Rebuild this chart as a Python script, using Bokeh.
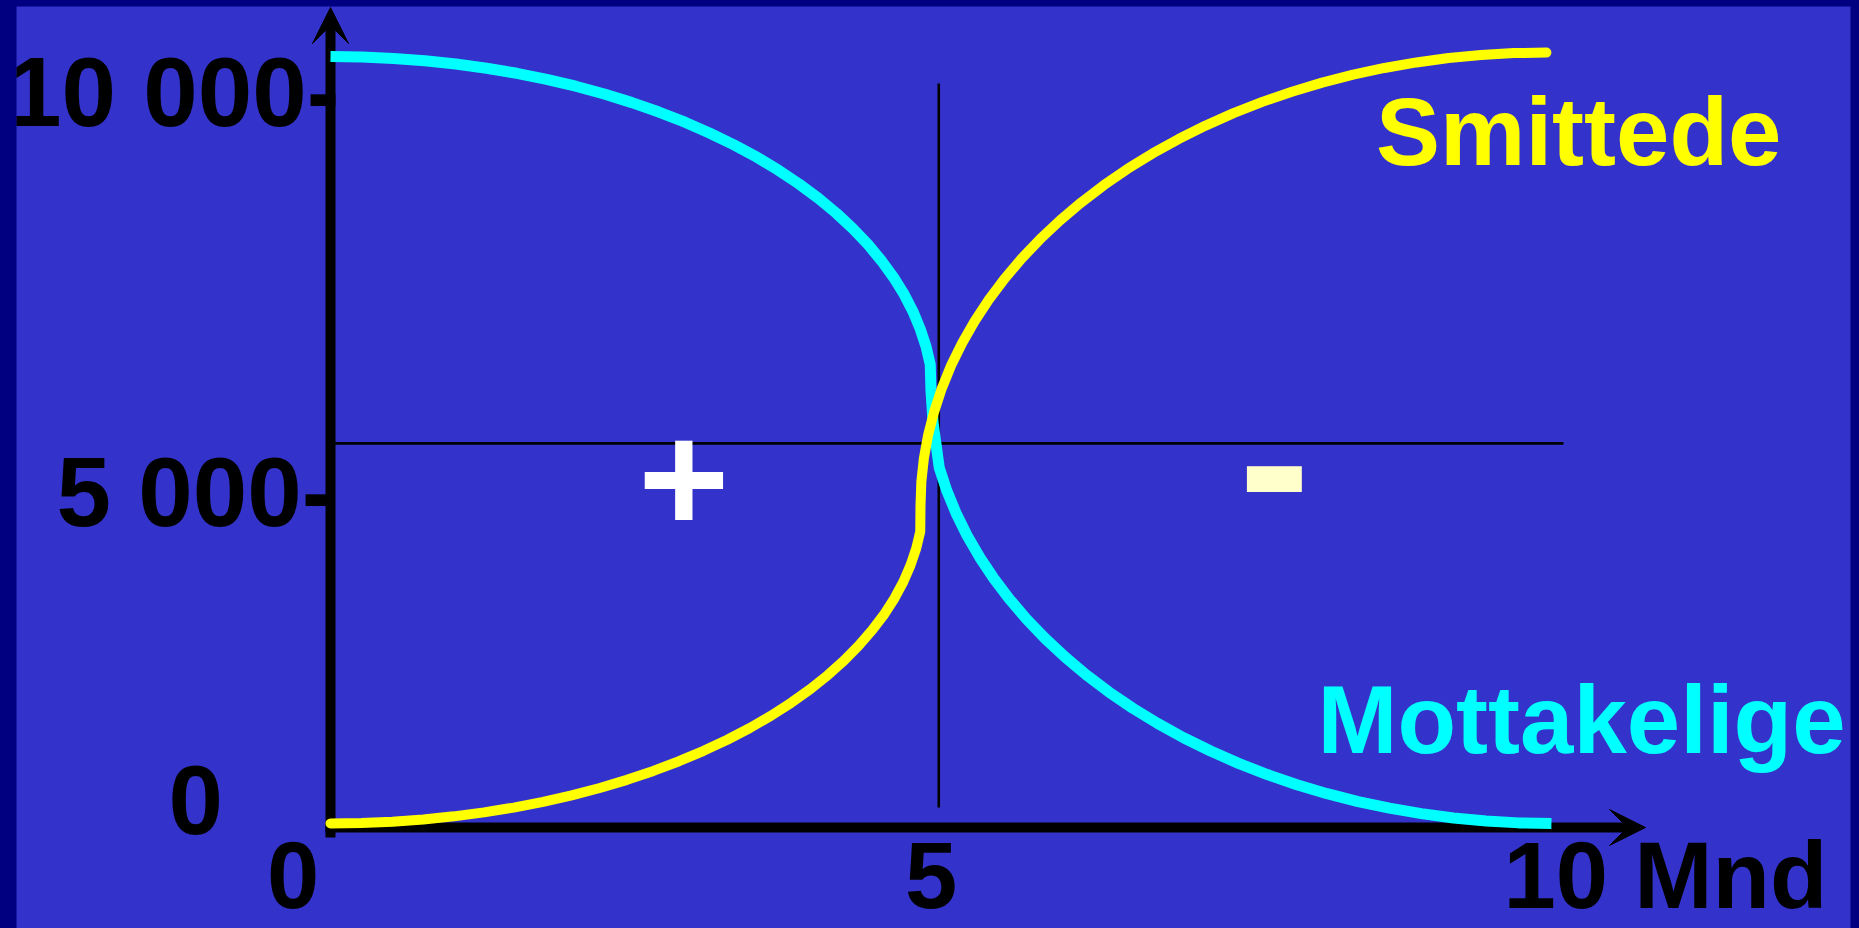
from bokeh.plotting import figure
from bokeh.models import Range1d, Arrow, VeeHead
from bokeh.core.properties import value
from bokeh.embed import file_html
from bokeh.resources import INLINE

# ---------------- data ----------------
# Mottakelige (susceptible): months / count
mott_months = [0.000, 0.259, 0.517, 0.774, 1.028, 1.280, 1.529, 1.773, 2.012, 2.246,
               2.473, 2.694, 2.908, 3.113, 3.310, 3.498, 3.676, 3.844, 4.002, 4.149,
               4.284, 4.408, 4.519, 4.618, 4.705, 4.778, 4.838, 4.886, 4.920, 4.926,
               4.943, 4.994, 5.056, 5.132, 5.222, 5.325, 5.441, 5.569, 5.709, 5.862,
               6.026, 6.200, 6.385, 6.580, 6.785, 6.998, 7.220, 7.449, 7.685, 7.928,
               8.176, 8.430, 8.687, 8.949, 9.213, 9.480, 9.748, 10.016]
mott_values = [9974, 9968, 9949, 9919, 9876, 9822, 9756, 9677, 9588, 9487,
               9375, 9253, 9121, 8978, 8826, 8666, 8496, 8318, 8133, 7940,
               7740, 7535, 7323, 7108, 6887, 6663, 6435, 6205, 5973, 5636,
               5221, 4632, 4335, 4042, 3754, 3473, 3197, 2929, 2669, 2417,
               2175, 1943, 1721, 1511, 1313, 1127, 954, 794, 649, 517,
               400, 298, 212, 141, 85, 45, 21, 13]
# Smittede (infected): months / count
smit_months = [0.000, 0.254, 0.508, 0.761, 1.011, 1.259, 1.503, 1.744, 1.978, 2.209,
               2.432, 2.649, 2.859, 3.061, 3.255, 3.440, 3.615, 3.780, 3.936, 4.080,
               4.213, 4.334, 4.444, 4.542, 4.627, 4.699, 4.758, 4.805, 4.838,
               4.840, 4.847, 4.868, 4.903, 4.953, 5.015, 5.091, 5.181, 5.284, 5.400,
               5.528, 5.668, 5.821, 5.985, 6.159, 6.344, 6.539, 6.744, 6.957, 7.179,
               7.408, 7.644, 7.887, 8.135, 8.389, 8.646, 8.908, 9.172, 9.439, 9.707,
               9.975]
smit_values = [13, 19, 36, 65, 106, 157, 220, 294, 379, 474,
               580, 696, 822, 957, 1101, 1253, 1414, 1582, 1758, 1941,
               2130, 2325, 2525, 2729, 2939, 3151, 3367, 3585, 3804,
               4143, 4451, 4758, 5063, 5366, 5665, 5961, 6251, 6536, 6814,
               7085, 7347, 7601, 7845, 8079, 8303, 8515, 8715, 8902, 9077,
               9238, 9385, 9517, 9635, 9738, 9825, 9897, 9954, 9994, 10018,
               10026]

y_tick_labels = ["10 000-", "5 000-", "0"]
x_tick_labels = ["0", "5", "10 Mnd"]
series_labels = ["Smittede", "Mottakelige"]
sign_labels = ["+", "-"]
guide_month = 4.99      # vertical guide line
guide_count = 4950      # horizontal guide line

# ---------------- layout calibration (page pixels) ----------------
W, H = 1859, 928
FRAME_L, FRAME_R, FRAME_T, FRAME_B = 16, 1850, 6, 928
X0_PX, PX_PER_MONTH = 330.0, 121.9
Y0_PX, PX_PER_COUNT = 824.0, 0.077
MID = 0.355  # distance of the 'middle' anchor above the baseline, in em


def dx(px):
    return (px - X0_PX) / PX_PER_MONTH


def dy(py):
    return (Y0_PX - py) / PX_PER_COUNT


def base(py, size):
    # anchor for a text whose baseline should sit at page y = py
    return dy(py - MID * size)


BG = "#3333CC"
NAVY = "#000080"
FONT = value("Liberation Sans")

p = figure(width=W, height=H, output_backend="svg", toolbar_location=None,
           x_axis_type=None, y_axis_type=None,
           x_range=Range1d(dx(FRAME_L), dx(FRAME_R)),
           y_range=Range1d(dy(FRAME_B), dy(FRAME_T)),
           min_border_left=FRAME_L, min_border_right=W - FRAME_R,
           min_border_top=FRAME_T, min_border_bottom=H - FRAME_B,
           background_fill_color=BG, border_fill_color=NAVY)
p.outline_line_color = None

# guide lines
p.segment(x0=[0, guide_month], y0=[guide_count, dy(807)],
          x1=[dx(1563), guide_month], y1=[guide_count, dy(83)],
          line_color="black", line_width=2.6)

# axes with arrow heads
p.add_layout(Arrow(end=VeeHead(size=36, fill_color="black", line_color="black", line_width=1),
                   x_start=0, y_start=dy(837), x_end=0, y_end=dy(7),
                   line_color="black", line_width=10, level="underlay"))
p.add_layout(Arrow(end=VeeHead(size=36, fill_color="black", line_color="black", line_width=1),
                   x_start=dx(325), y_start=dy(827), x_end=dx(1645), y_end=dy(827),
                   line_color="black", line_width=10, level="underlay"))

# curves
p.line(mott_months, mott_values, line_color="#00FFFF", line_width=11, line_join="round")
p.line(smit_months, smit_values, line_color="#FFFF00", line_width=10,
       line_cap="round", line_join="round")

# tick labels
p.text(x=[dx(6.5), dx(56), dx(168)],
       y=[base(126, 98), base(526, 98), base(834, 98)], text=y_tick_labels,
       text_font=FONT, text_font_style="bold", text_font_size="98px",
       text_color="black", text_align="left", text_baseline="middle")
p.text(x=[dx(266.4), dx(904.4), dx(1503)],
       y=[base(908, 94), base(908, 94), base(908, 94)], text=x_tick_labels,
       text_font=FONT, text_font_style="bold", text_font_size="94px",
       text_color="black", text_align="left", text_baseline="middle")

# series labels
p.text(x=[dx(1375.5)], y=[base(165, 96)], text=[series_labels[0]],
       text_font=FONT, text_font_style="bold", text_font_size="96px",
       text_color="#FFFF00", text_align="left", text_baseline="middle")
p.text(x=[dx(1317)], y=[base(753, 96)], text=[series_labels[1]],
       text_font=FONT, text_font_style="bold", text_font_size="96px",
       text_color="#00FFFF", text_align="left", text_baseline="middle")

# signs
p.text(x=[dx(683.4)], y=[dy(477.9)], text=[sign_labels[0]],
       text_font=FONT, text_font_style="bold", text_font_size="156px",
       text_color="white", text_align="center", text_baseline="middle")
p.text(x=[dx(1274)], y=[dy(459.5)], text=[sign_labels[1]],
       text_font=FONT, text_font_style="bold", text_font_size="216px",
       text_color="#FFFFCC", text_align="center", text_baseline="middle")

html = file_html(p, INLINE)
html = html.replace("<head>", "<head><style>html,body{background:#000080;overflow:hidden;}</style>", 1)
open("out.html", "w").write(html)
